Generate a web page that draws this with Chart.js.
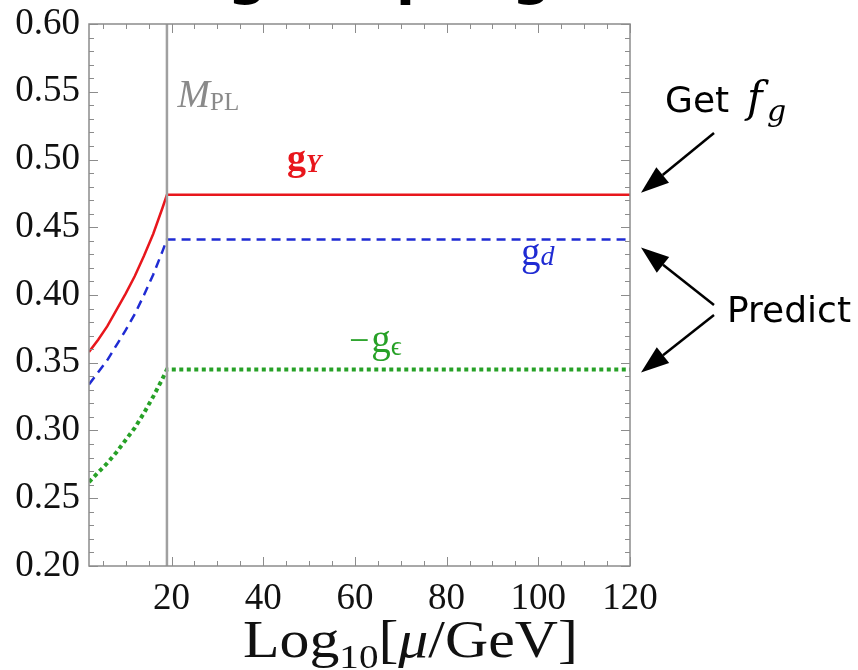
<!DOCTYPE html>
<html>
<head>
<meta charset="utf-8">
<script src="https://cdn.jsdelivr.net/npm/chart.js@4"></script>
<style>
  body { margin: 0; background: #fff; overflow: hidden; }
  #wrap { position: relative; width: 858px; height: 670px; }
  #title {
    position: absolute; left: 10px; top: -53px; margin: 0;
    font: bold 55px 'DejaVu Sans'; line-height: 55px; white-space: nowrap; color: #000;
  }
  canvas { position: absolute; left: 0; top: 0; }
</style>
</head>
<body>
<div id="wrap">
  <canvas id="chart" width="858" height="670"></canvas>
  <div id="title">Running couplings</div>
</div>
<script>
// log10(mu / GeV)
const MU = [2, 4, 6, 8, 10, 12, 14, 16, 18, 19, 120];
const G_Y = [0.358, 0.367, 0.377, 0.389, 0.401, 0.414, 0.429, 0.445, 0.464, 0.474, 0.474];
const G_D = [0.334, 0.343, 0.352, 0.363, 0.374, 0.386, 0.400, 0.415, 0.432, 0.441, 0.441];
const G_EPS = [0.262, 0.269, 0.276, 0.284, 0.293, 0.302, 0.313, 0.325, 0.338, 0.345, 0.345];
const M_PL = 19;

const X_TICKS = [20, 40, 60, 80, 100, 120];
const Y_TICKS = [0.20, 0.25, 0.30, 0.35, 0.40, 0.45, 0.50, 0.55, 0.60];
const X_MINOR = 5;
const Y_MINOR = 0.01;

const RED = '#e8161c';
const BLUE = '#1f2bd3';
const GREEN = '#27a127';
const GRAY = '#a0a0a0';

function toPoints(xs, ys) {
    return xs.map((x, i) => ({ x: x, y: ys[i] }));
}

// draw a row of text pieces with different fonts, optionally stretched sideways
function drawRuns(ctx, runs, x, y, color, stretch) {
    const k = stretch || 1;
    ctx.save();
    ctx.translate(x, y);
    ctx.scale(k, 1);
    ctx.fillStyle = color;
    ctx.textBaseline = 'alphabetic';
    ctx.textAlign = 'left';
    let cx = 0;
    runs.forEach(r => {
        ctx.font = r.font;
        cx += (r.dx || 0);
        ctx.fillText(r.text, cx, r.dy || 0);
        cx += ctx.measureText(r.text).width;
    });
    ctx.restore();
}

function arrow(ctx, x1, y1, x2, y2) {
    const ang = Math.atan2(y2 - y1, x2 - x1);
    const len = 28, half = 10;
    const bx = x2 - len * Math.cos(ang), by = y2 - len * Math.sin(ang);
    ctx.strokeStyle = '#000';
    ctx.fillStyle = '#000';
    ctx.lineWidth = 2.5;
    ctx.beginPath();
    ctx.moveTo(x1, y1);
    ctx.lineTo(bx, by);
    ctx.stroke();
    ctx.beginPath();
    ctx.moveTo(x2, y2);
    ctx.lineTo(bx + half * Math.sin(ang), by - half * Math.cos(ang));
    ctx.lineTo(bx - half * Math.sin(ang), by + half * Math.cos(ang));
    ctx.closePath();
    ctx.fill();
}

const framePlugin = {
    id: 'frame',
    afterDatasetsDraw(chart) {
        const ctx = chart.ctx;
        const a = chart.chartArea;
        const xs = chart.scales.x, ys = chart.scales.y;
        ctx.save();

        // frame
        ctx.strokeStyle = '#8c8c8c';
        ctx.lineWidth = 1.5;
        ctx.strokeRect(a.left, a.top, a.right - a.left, a.bottom - a.top);

        // inward ticks on all four sides
        ctx.lineWidth = 1;
        ctx.beginPath();
        for (let v = X_MINOR; v <= xs.max + 1e-9; v += X_MINOR) {
            if (v < xs.min) continue;
            const px = Math.round(xs.getPixelForValue(v)) + 0.5;
            const len = X_TICKS.includes(v) ? 9 : 5;
            ctx.moveTo(px, a.bottom); ctx.lineTo(px, a.bottom - len);
            ctx.moveTo(px, a.top); ctx.lineTo(px, a.top + len);
        }
        for (let i = 0; i <= Math.round((ys.max - ys.min) / Y_MINOR); i++) {
            const v = ys.min + i * Y_MINOR;
            const py = Math.round(ys.getPixelForValue(v)) + 0.5;
            const len = (i % 5 === 0) ? 9 : 5;
            ctx.moveTo(a.left, py); ctx.lineTo(a.left + len, py);
            ctx.moveTo(a.right, py); ctx.lineTo(a.right - len, py);
        }
        ctx.stroke();

        // curve labels
        const serif = "'Liberation Serif', 'DejaVu Serif', serif";
        drawRuns(ctx, [
            { text: 'M', font: 'italic 39px ' + serif },
            { text: 'PL', font: '25px ' + serif, dy: 3 }
        ], xs.getPixelForValue(21.3), ys.getPixelForValue(0.539), '#8a8a8a');
        drawRuns(ctx, [
            { text: 'g', font: 'bold 38px ' + serif },
            { text: 'Y', font: 'bold italic 25px ' + serif, dy: 2 }
        ], xs.getPixelForValue(45.2), ys.getPixelForValue(0.4925), RED);
        drawRuns(ctx, [
            { text: 'g', font: '39px ' + serif },
            { text: 'd', font: 'italic 28px ' + serif }
        ], xs.getPixelForValue(96.2), ys.getPixelForValue(0.4221), BLUE);
        drawRuns(ctx, [
            { text: '\u2212', font: '36px ' + serif },
            { text: 'g', font: '39px ' + serif, dx: 2 },
            { text: '\u03f5', font: '27px ' + serif, dy: 3 }
        ], xs.getPixelForValue(58.7), ys.getPixelForValue(0.358), GREEN);

        // axis title
        drawRuns(ctx, [
            { text: 'Log', font: '52px ' + serif },
            { text: '10', font: '34px ' + serif, dy: 11 },
            { text: '[', font: '52px ' + serif },
            { text: '\u03bc', font: 'italic 52px ' + serif },
            { text: '/GeV]', font: '52px ' + serif }
        ], 243, 657, '#111', 1.15);

        // right-hand annotations
        const sans = "'DejaVu Sans', sans-serif";
        drawRuns(ctx, [{ text: 'Get', font: '36px ' + sans }], 665, 112, '#000');
        drawRuns(ctx, [{ text: 'f', font: "italic 42px 'DejaVu Serif'" }], 747, 112, '#000');
        drawRuns(ctx, [{ text: 'g', font: "italic 30px 'DejaVu Serif'" }], 767, 121, '#000');
        drawRuns(ctx, [{ text: 'Predict', font: '36px ' + sans }], 727, 322, '#000');

        const tipX = a.right + 11;
        arrow(ctx, 714, 133, tipX, ys.getPixelForValue(G_Y[G_Y.length - 1]) - 2);
        arrow(ctx, 714, 305, tipX, ys.getPixelForValue(G_D[G_D.length - 1]) + 8);
        arrow(ctx, 714, 315, tipX, ys.getPixelForValue(G_EPS[G_EPS.length - 1]) + 3);

        ctx.restore();
    }
};

new Chart(document.getElementById('chart'), {
    type: 'line',
    data: {
        datasets: [
            {
                label: 'M_PL',
                data: toPoints([M_PL, M_PL], [0.2, 0.6]),
                borderColor: GRAY,
                borderWidth: 2.5,
                pointRadius: 0
            },
            {
                label: 'g_Y',
                data: toPoints(MU, G_Y),
                borderColor: RED,
                borderWidth: 2.5,
                pointRadius: 0
            },
            {
                label: 'g_d',
                data: toPoints(MU, G_D),
                borderColor: BLUE,
                borderWidth: 2.5,
                borderDash: [9, 6],
                pointRadius: 0
            },
            {
                label: '-g_eps',
                data: toPoints(MU, G_EPS),
                borderColor: GREEN,
                borderWidth: 4,
                borderDash: [4, 3.5],
                pointRadius: 0
            }
        ]
    },
    options: {
        responsive: false,
        animation: false,
        layout: { padding: { left: 0, top: 24, right: 228, bottom: 0 } },
        plugins: {
            legend: { display: false },
            tooltip: { enabled: false }
        },
        scales: {
            x: {
                type: 'linear',
                min: 2,
                max: 120,
                grid: { display: false },
                border: { display: false },
                afterBuildTicks: s => { s.ticks = X_TICKS.map(v => ({ value: v })); },
                afterFit: s => { s.height = 104; },
                ticks: {
                    autoSkip: false,
                    maxRotation: 0,
                    padding: 3,
                    color: '#111',
                    font: { family: 'Liberation Serif', size: 37 }
                }
            },
            y: {
                min: 0.2,
                max: 0.6,
                grid: { display: false },
                border: { display: false },
                afterBuildTicks: s => { s.ticks = Y_TICKS.map(v => ({ value: v })); },
                afterFit: s => { s.width = 89; },
                ticks: {
                    padding: 1,
                    color: '#111',
                    font: { family: 'Liberation Serif', size: 37 },
                    callback: v => v.toFixed(2)
                }
            }
        }
    },
    plugins: [framePlugin]
});
</script>
</body>
</html>
